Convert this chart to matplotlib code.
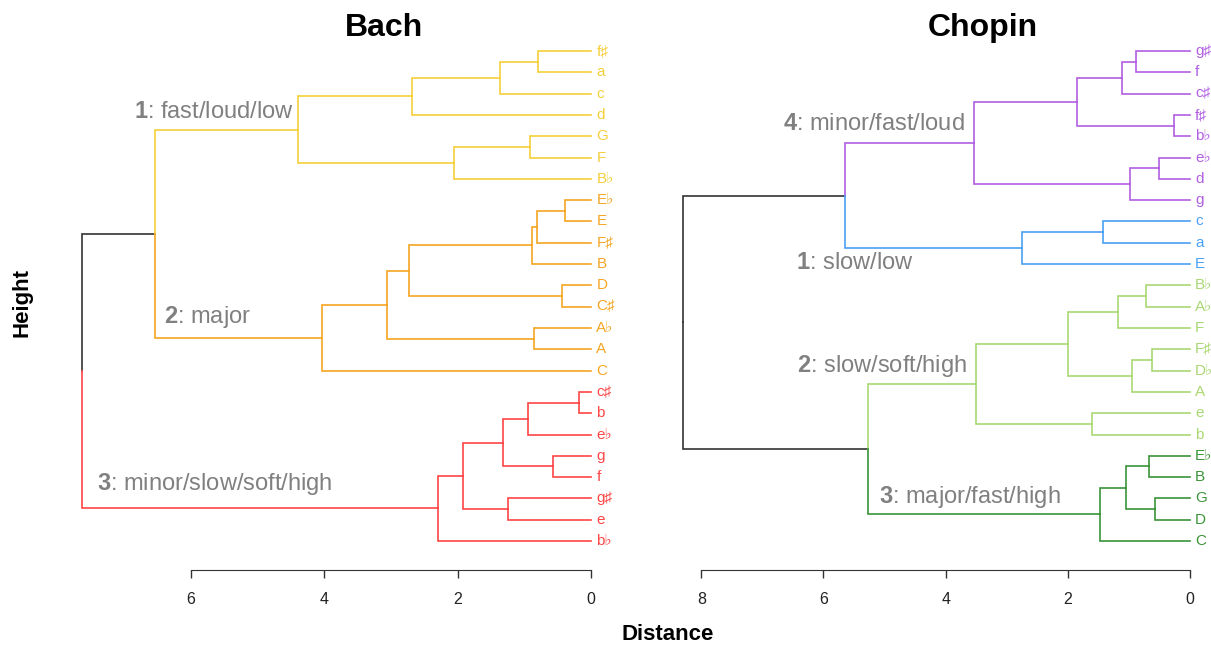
import matplotlib
matplotlib.use("Agg")
import matplotlib.pyplot as plt

plt.rcParams['font.family'] = ['Liberation Sans', 'DejaVu Sans']
plt.rcParams['mathtext.fontset'] = 'custom'
plt.rcParams['mathtext.rm'] = 'Liberation Sans'
plt.rcParams['mathtext.bf'] = 'Liberation Sans:bold'

# Each tree node is (merge height, upper child, lower child); leaves are key names.
bach_c1 = (4.40, (2.68, (1.36, (0.80, "f♯", "a"), "c"), "d"),
           (2.06, (0.92, "G", "F"), "B♭"))
bach_c2 = (4.03, (3.06, (2.73, (0.88, (0.81, (0.39, "E♭", "E"), "F♯"), "B"),
                         (0.44, "D", "C♯")),
                  (0.85, "A♭", "A")), "C")
bach_c3 = (2.30, (1.92, (1.32, (0.94, (0.18, "c♯", "b"), "e♭"), (0.57, "g", "f")),
                  (1.24, "g♯", "e")), "b♭")
bach_tree = (7.64, (6.54, bach_c1, bach_c2), bach_c3)

chopin_c4 = (3.54, (1.85, (1.12, (0.88, "g♯", "f"), "c♯"), (0.27, "f♯", "b♭")),
             (0.98, (0.51, "e♭", "d"), "g"))
chopin_c1 = (2.75, (1.43, "c", "a"), "E")
chopin_c2 = (3.51, (2.00, (1.18, (0.72, "B♭", "A♭"), "F"), (0.95, (0.63, "F♯", "D♭"), "A")),
             (1.60, "e", "b"))
chopin_c3 = (1.47, (1.04, (0.67, "E♭", "B"), (0.58, "G", "D")), "C")
chopin_tree = (8.30, (5.65, chopin_c4, chopin_c1), (5.27, chopin_c2, chopin_c3))

bach_clusters = [(bach_c1, "#F5CF3A"), (bach_c2, "#F5A623"), (bach_c3, "#FF4545")]
chopin_clusters = [(chopin_c4, "#B15FE3"), (chopin_c1, "#4AA0F5"),
                   (chopin_c2, "#A9D873"), (chopin_c3, "#3A9438")]

bach_notes = ["fast/loud/low", "major", "minor/slow/soft/high"]
chopin_notes = ["minor/fast/loud", "slow/low", "slow/soft/high", "major/fast/high"]


def draw_tree(ax, tree, clusters):
    """Draw a horizontal dendrogram, leaves on the right at distance 0."""
    counter = [0]
    ypos = {}

    # leaves get consecutive rows, inner nodes sit midway between their children
    def layout(node):
        if isinstance(node, str):
            y = counter[0]
            counter[0] += 1
        else:
            y = (layout(node[1]) + layout(node[2])) / 2.0
        ypos[id(node)] = y
        return y

    layout(tree)

    def draw(node, colour):
        if isinstance(node, str):
            ax.text(-0.08, ypos[id(node)], node, color=colour, fontsize=11,
                    ha='left', va='center', clip_on=False)
            return
        h, y = node[0], ypos[id(node)]
        for child in node[1:]:
            c = colour
            for sub, col in clusters:
                if child is sub:
                    c = col
            ch = 0.0 if isinstance(child, str) else child[0]
            cy = ypos[id(child)]
            ax.plot([h, h, ch], [y, cy, cy], color=c, lw=1.2,
                    solid_joinstyle='miter', clip_on=False)
            draw(child, c)

    draw(tree, "#333333")


def style_axis(ax, xmax, ticks):
    ax.set_ylim(24.36, -0.52)
    ax.set_xlim(xmax, 0)
    for s in ['top', 'left', 'right']:
        ax.spines[s].set_visible(False)
    ax.spines['bottom'].set_bounds(ticks[-1], ticks[0])
    ax.spines['bottom'].set_color('#333333')
    ax.set_xticks(ticks)
    ax.set_xticklabels([str(t) for t in ticks])
    ax.tick_params(axis='x', length=6, width=1, color='#333333', pad=10,
                   labelsize=11.5, labelcolor='#222222')
    ax.set_yticks([])


W, H = 1211, 645
fig = plt.figure(figsize=(W / 100, H / 100), dpi=100)

# left panel: Bach
ax1 = fig.add_axes([75 / W, 1 - 570 / H, 516 / W, 530 / H])
draw_tree(ax1, bach_tree, bach_clusters)
style_axis(ax1, 7.74, [6, 4, 2, 0])

# right panel: Chopin
ax2 = fig.add_axes([675 / W, 1 - 570 / H, 515 / W, 530 / H])
draw_tree(ax2, chopin_tree, chopin_clusters)
style_axis(ax2, 8.43, [8, 6, 4, 2, 0])

fig.text(384 / W, 1 - 28 / H, "Bach", fontsize=23, fontweight='bold',
         ha='center', va='center')
fig.text(983 / W, 1 - 28 / H, "Chopin", fontsize=23, fontweight='bold',
         ha='center', va='center')

grey = "#808080"
fs = 17
ax1.text(4.46, 2.86, r"$\mathbf{1}$: " + bach_notes[0], color=grey, fontsize=fs,
         ha='right', va='center')
ax1.text(6.40, 12.49, r"$\mathbf{2}$: " + bach_notes[1], color=grey, fontsize=fs,
         ha='left', va='center')
ax1.text(7.41, 20.33, r"$\mathbf{3}$: " + bach_notes[2], color=grey, fontsize=fs,
         ha='left', va='center')

ax2.text(3.68, 3.40, r"$\mathbf{4}$: " + chopin_notes[0], color=grey, fontsize=fs,
         ha='right', va='center')
ax2.text(6.45, 9.97, r"$\mathbf{1}$: " + chopin_notes[1], color=grey, fontsize=fs,
         ha='left', va='center')
ax2.text(6.43, 14.79, r"$\mathbf{2}$: " + chopin_notes[2], color=grey, fontsize=fs,
         ha='left', va='center')
ax2.text(5.09, 20.93, r"$\mathbf{3}$: " + chopin_notes[3], color=grey, fontsize=fs,
         ha='left', va='center')

fig.text(668 / W, 1 - 635 / H, "Distance", fontsize=16, fontweight='bold',
         ha='center', va='center')
fig.text(22 / W, 1 - 302 / H, "Height", fontsize=16, fontweight='bold',
         ha='center', va='center', rotation=90)

fig.savefig("out.png", dpi=100)
